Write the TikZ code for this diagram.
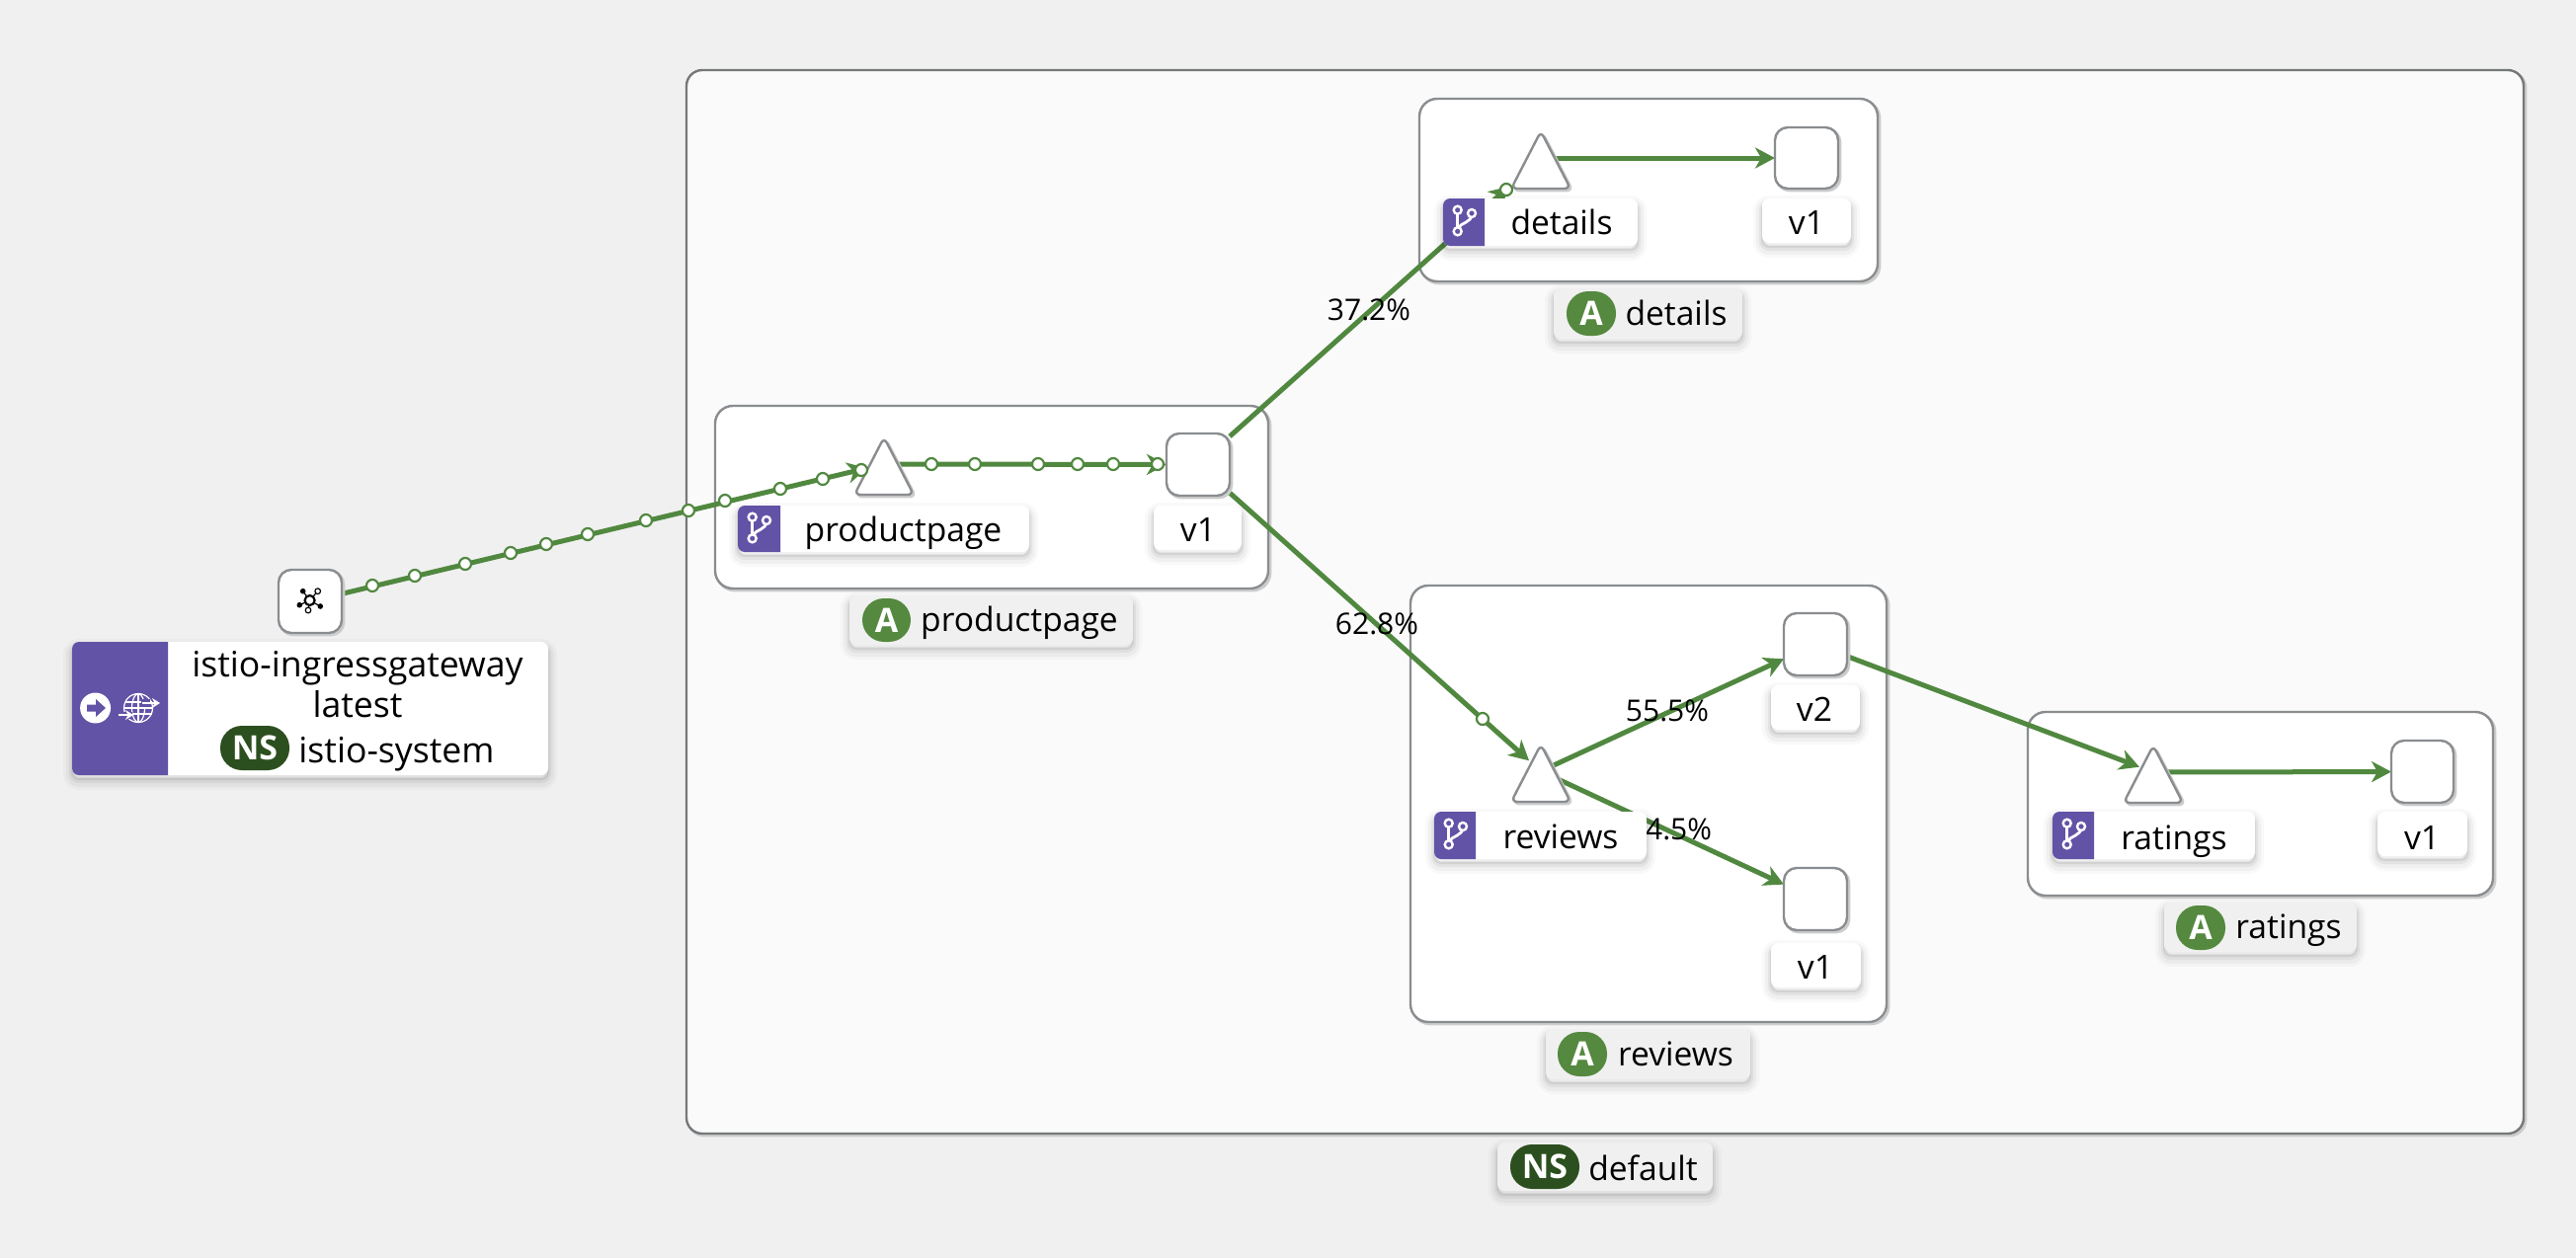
\documentclass[tikz,border=0pt]{standalone}
\usepackage{fontspec}
\setmainfont{Open Sans}
\usetikzlibrary{arrows.meta,shapes.geometric}
\definecolor{pagebg}{HTML}{F0F0F0}
\definecolor{nsfill}{HTML}{FAFAFA}
\definecolor{bordergrey}{HTML}{8A8D90}
\definecolor{edgegreen}{HTML}{518840}
\definecolor{pfpurple}{HTML}{6253A6}
\definecolor{appgreen}{HTML}{55893F}
\definecolor{nsgreen}{HTML}{2C4F1F}
\pgfdeclarelayer{boxlayer}
\pgfdeclarelayer{edgelayer}
\pgfsetlayers{boxlayer,edgelayer,main}
\newcommand\pxbox[7]{\pgfmathsetlengthmacro\pxw{(#5-#3)*0.5pt}\pgfmathsetlengthmacro\pxh{(#6-#4)*0.5pt}\node[#2,minimum width=\pxw,minimum height=\pxh,anchor=north west] (#1) at (#3,#4) {#7};}
\newcommand\purpleside[4]{\fill[pfpurple] (#3,#2) [rounded corners=3.5pt] -- (#1,#2) -- (#1,#4) [sharp corners] -- (#3,#4) -- cycle;}
\newcommand\branchicon[2]{\begin{scope}[shift={(#1,#2)}]
\draw[white,line width=1.4pt] (14.7,12) -- (14.7,33);
\draw[white,line width=1.4pt] (29,15) .. controls (29,26) and (18,23) .. (15,31);
\foreach \cx/\cy in {14.7/11.7,29/15,14.7/33.3}{\draw[white,fill=pfpurple,line width=1.2pt] (\cx,\cy) circle[radius=4];}
\end{scope}}
% a service: an invisible triangle node, its outline with rounded corners, and the point its connectors aim at
\newcommand\svcnode[3]{\node[svctri,anchor=apex] (#1) at (#2,#3) {};
\draw[svcoutline] (#1.lower side) -- (#1.right corner) -- (#1.apex) -- (#1.left corner) -- cycle;
\coordinate (#1hub) at ([yshift=-13.5pt]#1.apex);}
\tikzset{
 softshadow/.style={
  preaction={draw=black,draw opacity=.025,line width=9pt,transform canvas={yshift=-3pt}},
  preaction={draw=black,draw opacity=.035,line width=6pt,transform canvas={yshift=-3pt}},
  preaction={draw=black,draw opacity=.05,line width=3pt,transform canvas={yshift=-2.5pt}},
  preaction={draw=black,draw opacity=.07,line width=1pt,transform canvas={yshift=-2pt}}},
 hardshadow/.style={preaction={draw=black!20,line width=1.4pt,transform canvas={xshift=1pt,yshift=-1pt}}},
 plainbox/.style={rectangle,inner sep=0pt,outer sep=0pt},
 nsbox/.style={plainbox,draw=bordergrey!85!black,line width=1.2pt,fill=nsfill,rounded corners=8pt,hardshadow},
 appbox/.style={plainbox,draw=bordergrey,line width=1.2pt,fill=white,rounded corners=9pt,hardshadow},
 wlsquare/.style={plainbox,draw=bordergrey,line width=1.2pt,fill=white,rounded corners=6.5pt,hardshadow},
 svctri/.style={isosceles triangle,isosceles triangle stretches,shape border rotate=90,inner sep=0pt,outer sep=0pt,minimum width=30pt,minimum height=29pt},
 svcoutline/.style={draw=bordergrey,line width=1.2pt,fill=white,rounded corners=3pt,hardshadow},
 whitelabel/.style={plainbox,fill=white,rounded corners=3.5pt,softshadow},
 greylabel/.style={plainbox,fill=pagebg,rounded corners=3.5pt,softshadow},
 appbadge/.style={plainbox,fill=appgreen,rounded corners=11pt,text=white,font=\fontsize{17}{17}\selectfont\bfseries},
 nsbadge/.style={plainbox,fill=nsgreen,rounded corners=11pt,text=white,font=\fontsize{17}{17}\selectfont\bfseries},
 labeltext/.style={inner sep=0pt,outer sep=0pt,anchor=base,text=black,font=\fontsize{16.8}{17}\selectfont},
 gwtext/.style={labeltext,font=\fontsize{17.8}{18}\selectfont},
 edgetext/.style={inner sep=0pt,outer sep=0pt,anchor=base,text=black,font=\fontsize{15}{15}\selectfont},
 flowedge/.style={draw=edgegreen,line width=2.5pt,-{Stealth[length=10pt,width=10.5pt,inset=3pt]}},
 flowdot/.style={circle,inner sep=0pt,outer sep=0pt,minimum size=6pt,draw=edgegreen,line width=1.1pt,fill=white},
}
\begin{document}
\begin{tikzpicture}[x=0.5pt,y=-0.5pt]
\useasboundingbox (0,0) rectangle (2608,1274);
\begin{pgfonlayer}{boxlayer}
\fill[pagebg] (0,0) rectangle (2608,1274);
\pxbox{nsdefault}{nsbox}{695}{71}{2555}{1148}{}
\pxbox{apppp}{appbox}{724}{411}{1284}{596}{}
\pxbox{appdet}{appbox}{1437}{100}{1901}{285}{}
\pxbox{apprev}{appbox}{1428}{593}{1910}{1035}{}
\pxbox{apprat}{appbox}{2053}{721}{2524}{907}{}
\end{pgfonlayer}
% workloads and services
\pxbox{gw}{wlsquare}{282}{577}{346}{641}{}
\pxbox{ppv1}{wlsquare}{1181}{439}{1245}{502}{}
\pxbox{detv1}{wlsquare}{1797}{129}{1861}{191}{}
\pxbox{revv2}{wlsquare}{1806}{621}{1870}{684}{}
\pxbox{revv1}{wlsquare}{1806}{879}{1870}{942}{}
\pxbox{ratv1}{wlsquare}{2421}{750}{2484}{813}{}
\svcnode{pptri}{895}{443}
\svcnode{dettri}{1560}{133}
\svcnode{revtri}{1560}{754}
\svcnode{rattri}{2180}{755}
% connectors
\begin{pgfonlayer}{edgelayer}
\draw[flowedge,shorten >=8.8pt] (gw) -- (pptrihub);
\draw[flowedge] (pptrihub) -- (ppv1);
\draw[flowedge,shorten >=21.5pt] (ppv1) -- (dettrihub);
\draw[flowedge,shorten >=8pt] (ppv1) -- (revtrihub);
\draw[flowedge] (dettrihub) -- (detv1);
\draw[flowedge] (revtrihub) -- (revv2);
\draw[flowedge] (revtrihub) -- (revv1);
\draw[flowedge,shorten >=7.5pt] (revv2) -- (rattrihub);
\draw[flowedge] (rattrihub) -- (ratv1);
\end{pgfonlayer}
% traffic dots
\foreach \i/\x/\y in {1/377/593,2/420/583,3/471/571,4/517/560,5/553/551,6/595/541,7/654/527,8/697/517,9/734/507,10/790/495,11/833/485,12/872/476,13/943/470,14/987/470,15/1051/470,16/1091/470,17/1127/470,18/1172/470,19/1525/192,20/1501/728}{\node[flowdot] (dot\i) at (\x,\y) {};}
% edge labels
\node[edgetext] (pct1) at (1386,324) {37.2\%};
\node[edgetext] (pct2) at (1394,642) {62.8\%};
\node[edgetext] (pct3) at (1688,730) {55.5\%};
\node[edgetext] (pct4) at (1691,850) {44.5\%};
% gateway label
\pxbox{gwlabel}{whitelabel}{73}{650}{555}{785}{}
\purpleside{73}{650}{170}{785}
\fill[white] (96.6,717) circle[radius=15.5];
\fill[pfpurple] (88,713.5) -- (97,713.5) -- (97,708) -- (107,717) -- (97,726) -- (97,720.5) -- (88,720.5) -- cycle;
\begin{scope}[white,line width=0.6pt]
\draw (140,717) circle[radius=14.5];
\draw (140,717) ellipse[x radius=6.5,y radius=14.5];
\draw (126.5,711) -- (153.5,711) (126,717) -- (154,717) (126.5,723) -- (153.5,723) (140,702.5) -- (140,731.5);
\fill[pfpurple] (143,708) rectangle (152,716);
\draw[line width=1pt,-{Stealth[length=4pt,width=5pt]}] (144,712) -- (162,712);
\fill[pfpurple] (124,721) rectangle (134,728);
\draw[line width=1pt,-{Stealth[length=4pt,width=5pt]}] (120,724) -- (135,724);
\end{scope}
\node[gwtext] (gwname) at (362,685) {istio-ingressgateway};
\node[gwtext] (gwver) at (362,726) {latest};
\pxbox{gwns}{nsbadge}{223}{735}{293}{780}{NS}
\node[gwtext] (gwnstext) at (401.5,772) {istio-system};
% mesh icon
\begin{scope}[black]
\draw[line width=0.6pt] (313.6,608) -- (306.7,598.7) (313.6,608) -- (321.7,598.7) (313.6,608) -- (303.3,612.7) (313.6,608) -- (324.3,614) (313.6,608) -- (312,618);
\draw[line width=1.1pt,fill=white] (313.6,608) circle[radius=5];
\fill (306.7,598.7) circle[radius=2.8] (303.3,612.7) circle[radius=2.8] (324.3,614) circle[radius=2.8];
\draw[line width=0.6pt,fill=white] (321.7,598.7) circle[radius=2.8] (312,618) circle[radius=2.8];
\end{scope}
% service and version labels
\pxbox{lbpp}{whitelabel}{747}{512}{1042}{559}{}
\purpleside{747}{512}{790}{559}
\branchicon{747}{512}
\node[labeltext] (tpp) at (914.5,548) {productpage};
\pxbox{lbppv}{whitelabel}{1168}{512}{1257}{557}{}
\node[labeltext] (tppv) at (1213,548) {v1};
\pxbox{lbdet}{whitelabel}{1461}{201}{1658}{249}{}
\purpleside{1461}{201}{1503}{249}
\branchicon{1461}{201}
\node[labeltext] (tdet) at (1581,237) {details};
\pxbox{lbdetv}{whitelabel}{1784}{201}{1874}{246}{}
\node[labeltext] (tdetv) at (1829,237) {v1};
\pxbox{lbrev}{whitelabel}{1452}{822}{1667}{870}{}
\purpleside{1452}{822}{1494}{870}
\branchicon{1452}{822}
\node[labeltext] (trev) at (1580,859) {reviews};
\pxbox{lbrevv2}{whitelabel}{1793}{694}{1883}{739}{}
\node[labeltext] (trevv2) at (1837,730) {v2};
\pxbox{lbrevv1}{whitelabel}{1793}{955}{1884}{1000}{}
\node[labeltext] (trevv1) at (1838,991) {v1};
\pxbox{lbrat}{whitelabel}{2078}{822}{2283}{870}{}
\purpleside{2078}{822}{2120}{870}
\branchicon{2078}{822}
\node[labeltext] (trat) at (2201,860) {ratings};
\pxbox{lbratv}{whitelabel}{2407}{822}{2498}{867}{}
\node[labeltext] (tratv) at (2452,860) {v1};
% group labels
\pxbox{glpp}{greylabel}{860}{603}{1147}{653}{}
\pxbox{bpp}{appbadge}{873}{606}{922}{650}{A}
\node[labeltext] (tglpp) at (1032,639) {productpage};
\pxbox{gldet}{greylabel}{1573}{292}{1764}{343}{}
\pxbox{bdet}{appbadge}{1586}{295}{1636}{340}{A}
\node[labeltext] (tgldet) at (1697,329) {details};
\pxbox{glrev}{greylabel}{1565}{1042}{1772}{1093}{}
\pxbox{brev}{appbadge}{1577}{1045}{1627}{1090}{A}
\node[labeltext] (tglrev) at (1696.5,1079) {reviews};
\pxbox{glrat}{greylabel}{2191}{914}{2386}{964}{}
\pxbox{brat}{appbadge}{2203}{917}{2253}{962}{A}
\node[labeltext] (tglrat) at (2317,950) {ratings};
\pxbox{glns}{greylabel}{1516}{1157}{1734}{1206}{}
\pxbox{bns}{nsbadge}{1529}{1159}{1599}{1204}{NS}
\node[labeltext] (tglns) at (1663.5,1195) {default};
\end{tikzpicture}
\end{document}
